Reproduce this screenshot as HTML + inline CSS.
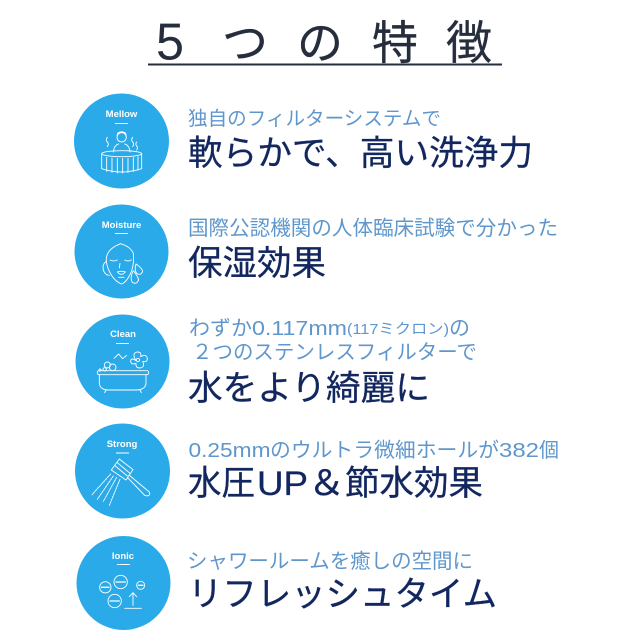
<!DOCTYPE html>
<html><head><meta charset="utf-8">
<style>
html,body{margin:0;padding:0;background:#fff;width:640px;height:640px;overflow:hidden}
svg{display:block}
text{font-family:"Liberation Sans","Noto Sans CJK JP",sans-serif}
.s{fill:#5f97cc;font-size:20.4px}
.m{fill:#12275f;font-size:34.5px;stroke:#12275f;stroke-width:.3}
.t{fill:#262d3d;stroke:#262d3d;stroke-width:.3;font-size:46px}
.l{fill:#fff;font-size:9.500px;font-weight:bold;text-anchor:middle}
.i{fill:none;stroke:#fff;stroke-width:2.7;stroke-linecap:round;stroke-linejoin:round}
</style></head><body>
<svg width="640" height="640" viewBox="0 0 640 640" xmlns="http://www.w3.org/2000/svg">
<text class="t" x="156" y="59.500" style="font-size:52px;stroke-width:0" textLength="28" lengthAdjust="spacingAndGlyphs">5</text>
<text class="t" x="222" y="59">つ</text>
<text class="t" x="297" y="59">の</text>
<text class="t" x="372" y="59">特</text>
<text class="t" x="446" y="59">徴</text>
<rect x="148" y="63.500" width="354" height="2" fill="#262d3d"/>

<circle cx="121.5" cy="141" r="47.5" fill="#2aaae9"/>
<circle cx="121.5" cy="251.5" r="47" fill="#2aaae9"/>
<circle cx="122.5" cy="361.5" r="47" fill="#2aaae9"/>
<circle cx="122.5" cy="471" r="47.5" fill="#2aaae9"/>
<circle cx="123.5" cy="583" r="47" fill="#2aaae9"/>

<text class="l" x="121.5" y="117">Mellow</text><rect x="115" y="123" width="13" height="1" fill="#fff"/>
<text class="l" x="121.5" y="228">Moisture</text><rect x="115" y="233" width="13" height="1" fill="#fff"/>
<text class="l" x="123" y="337">Clean</text><rect x="116" y="343" width="13" height="1" fill="#fff"/>
<text class="l" x="122" y="447">Strong</text><rect x="116" y="452.500" width="13" height="1" fill="#fff"/>
<text class="l" x="123" y="559">Ionic</text><rect x="117" y="564" width="13" height="1" fill="#fff"/>

<g transform="translate(60,90) scale(.3333)" class="i">
<ellipse cx="185" cy="191" rx="60" ry="9"/>
<path d="M125 191V236Q185 256 245 236V191"/>
<path d="M140 202V244M156 204V247M172 205V249M188 205V249M204 205V248M220 203V245M234 200V240"/>
<circle cx="185" cy="142" r="14"/>
<path d="M171 136Q185 118 199 136M172 130Q185 120 198 130"/>
<path d="M160 186Q162 166 176 162M210 186Q208 166 194 162"/>
<path d="M142 142q-6 8 0 14t0 14M218 142q-6 8 0 14t0 14M230 156q-5 7 0 12t0 12"/>
</g>

<g transform="translate(60,90) scale(.3333)" class="i">
<path d="M139 505Q142 476 182 461Q212 470 220 490Q223 520 214 545Q200 578 184 582Q160 572 146 540Q138 520 139 505Z"/>
<path d="M138 515Q124 525 132 545Q138 556 148 556"/>
<path d="M150 510Q160 516 172 510M194 510Q204 516 214 510"/>
<path d="M180 520L178 534M172 546Q184 542 196 546Q184 560 172 546ZM176 562H192"/>
<path d="M228 522Q246 534 248 544Q244 556 232 552Q222 544 228 522ZM220 542Q234 560 236 570Q230 584 218 578Q208 566 220 542Z"/>
</g>

<g transform="translate(60,310) scale(.3333)" class="i">
<rect x="112" y="182" width="154" height="12" rx="5"/>
<path d="M118 194V222Q122 240 146 240H228Q254 240 258 222V194"/>
<path d="M138 240L134 248M240 240L244 248"/>
<circle cx="142" cy="165" r="9"/><circle cx="158" cy="172" r="10"/><circle cx="134" cy="178" r="5"/><circle cx="120" cy="180" r="3"/>
<path d="M162 145L176 132L188 146L200 136"/>
<path d="M228 152Q214 130 232 126Q246 126 242 140Q260 130 262 146Q262 158 248 154Q256 172 240 174Q226 174 228 160Q212 166 212 152Q214 142 228 152Z"/>
<circle cx="234" cy="150" r="5"/>
</g>

<g transform="translate(60,420) scale(.3333)" class="i">
<path d="M178 117L219 149L198 180L154 150Z"/>
<path d="M172 128L210 160M166 138L202 168"/>
<path d="M207 165L268 216Q272 226 262 228L254 226L202 172"/>
<path d="M152 162L96 224M160 168L112 238" stroke-dasharray="6 3"/>
<path d="M170 172L130 244M180 178L148 256" stroke-dasharray="6 3"/>
</g>

<g transform="translate(60,420) scale(.3333)" class="i">
<circle cx="182" cy="486" r="20"/><path d="M168 486H196" stroke-width="4"/>
<circle cx="136" cy="502" r="17"/><path d="M125 502H147" stroke-width="4"/>
<circle cx="242" cy="496" r="12"/><path d="M235 496H249" stroke-width="4"/>
<circle cx="164" cy="543" r="20"/><path d="M150 543H178" stroke-width="4"/>
<path d="M194 565H244M219 556V518M208 530L219 518L230 530"/>
</g>

<text class="s" style="font-size:19.500px" x="188" y="125" textLength="253" lengthAdjust="spacingAndGlyphs">独自のフィルターシステムで</text>
<text class="m" x="188" y="165" textLength="345" lengthAdjust="spacingAndGlyphs">軟らかで、高い洗浄力</text>
<text class="s" x="188" y="235" textLength="370" lengthAdjust="spacingAndGlyphs">国際公認機関の人体臨床試験で分かった</text>
<text class="m" x="188" y="275" textLength="138" lengthAdjust="spacingAndGlyphs">保湿効果</text>

<text class="s" x="189" y="335" textLength="63" lengthAdjust="spacingAndGlyphs">わずか</text>
<text class="s" x="252" y="335" textLength="95" lengthAdjust="spacingAndGlyphs">0.117mm</text>
<text class="s" style="font-size:14.500px" x="347" y="334" textLength="102" lengthAdjust="spacingAndGlyphs">(117ミクロン)</text>
<text class="s" x="449" y="335" textLength="21" lengthAdjust="spacingAndGlyphs">の</text>
<text class="s" x="192" y="359" textLength="285" lengthAdjust="spacingAndGlyphs">２つのステンレスフィルターで</text>
<text class="m" x="188" y="400" textLength="242" lengthAdjust="spacingAndGlyphs">水をより綺麗に</text>

<text class="s" x="188.500" y="457" textLength="82" lengthAdjust="spacingAndGlyphs">0.25mm</text>
<text class="s" x="270" y="457" textLength="229" lengthAdjust="spacingAndGlyphs">のウルトラ微細ホールが</text>
<text class="s" x="499" y="457" textLength="40" lengthAdjust="spacingAndGlyphs">382</text>
<text class="s" x="539" y="457" textLength="20" lengthAdjust="spacingAndGlyphs">個</text>
<text class="m" x="188" y="495" textLength="67" lengthAdjust="spacingAndGlyphs">水圧</text>
<text class="m" x="257" y="495" textLength="51" lengthAdjust="spacingAndGlyphs">UP</text>
<text class="m" x="308" y="495" textLength="37" lengthAdjust="spacingAndGlyphs">＆</text>
<text class="m" x="345" y="495" textLength="138" lengthAdjust="spacingAndGlyphs">節水効果</text>
<text class="s" x="187" y="568" textLength="286" lengthAdjust="spacingAndGlyphs">シャワールームを癒しの空間に</text>
<text class="m" x="188" y="606" textLength="309" lengthAdjust="spacingAndGlyphs">リフレッシュタイム</text>
</svg>
</body></html>
